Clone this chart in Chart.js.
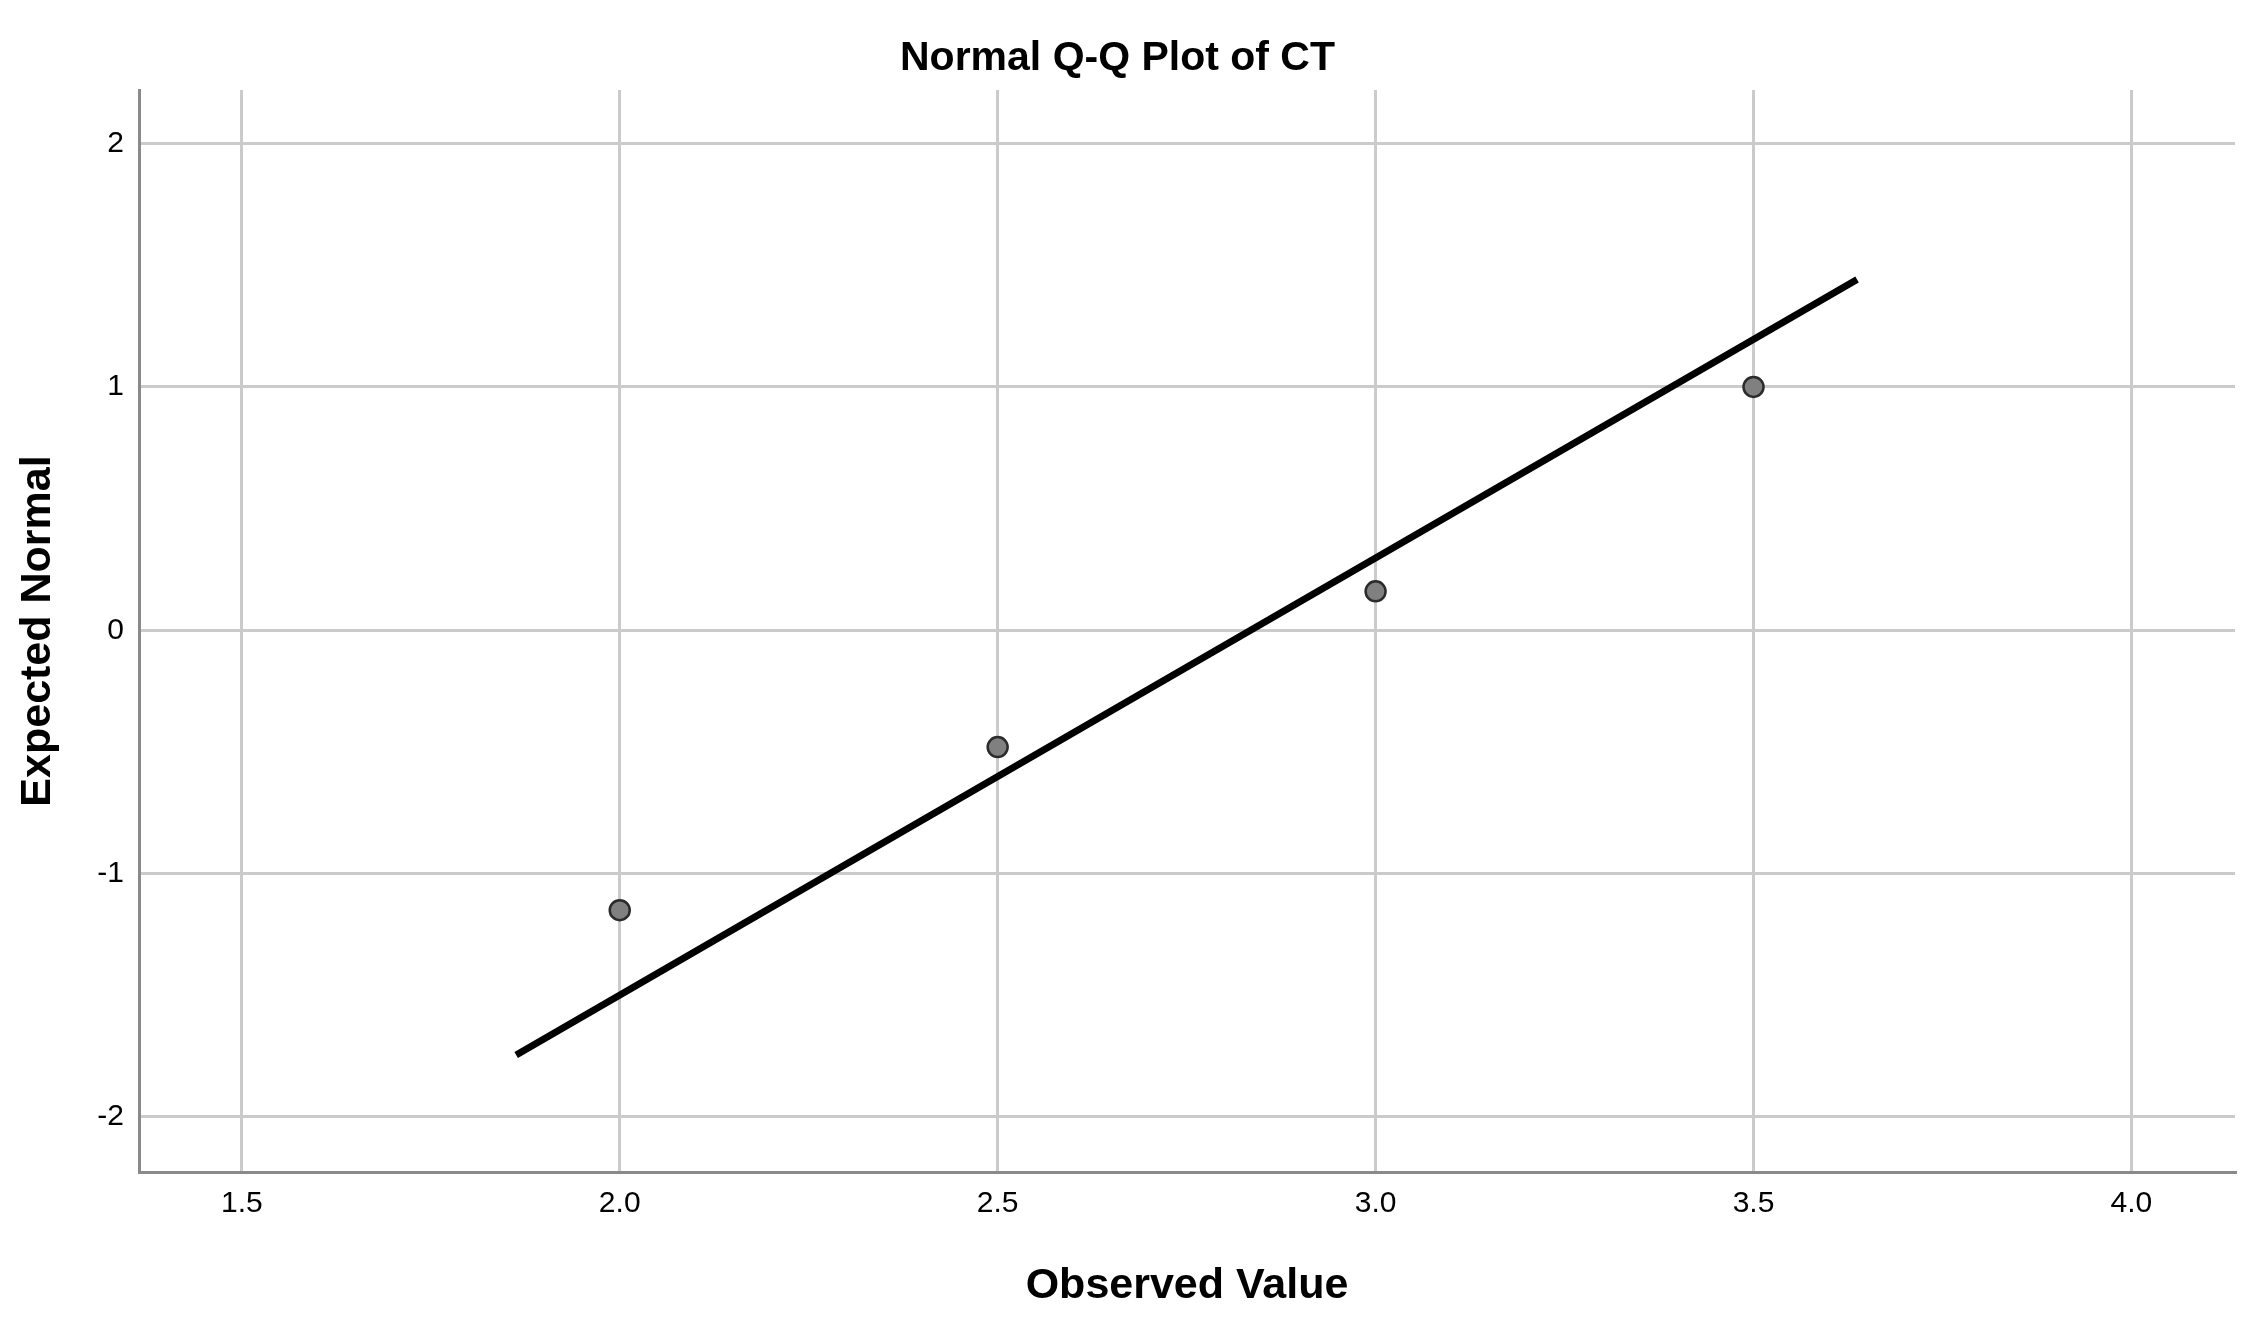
<!DOCTYPE html>
<html>
<head>
<meta charset="utf-8">
<title>Normal Q-Q Plot of CT</title>
<script src="https://cdn.jsdelivr.net/npm/chart.js@4.4.1/dist/chart.umd.min.js"></script>
<style>
  html, body { margin: 0; padding: 0; background: #ffffff; }
  canvas { display: block; }
</style>
</head>
<body>
<canvas id="qqChart" width="2266" height="1325"></canvas>
<script>
const observedValues = [2.0, 2.5, 3.0, 3.5];
const expectedNormal = [-1.15, -0.48, 0.16, 1.0];

// reference line ends
const lineX = [1.863, 3.637];
const lineY = [-1.745, 1.441];

const xTicks = [1.5, 2.0, 2.5, 3.0, 3.5, 4.0];
const yTicks = [-2, -1, 0, 1, 2];

Chart.defaults.font.family = "'Liberation Sans', Arial, sans-serif";
Chart.defaults.color = "#000000";

const qq = document.getElementById("qqChart");
QQChart();
function QQChart() {
  const points = observedValues.map((v, i) => ({ x: v, y: expectedNormal[i] }));
  const refLine = lineX.map((v, i) => ({ x: v, y: lineY[i] }));

  let data = {
    datasets: [
      {
        type: "scatter",
        label: "Observed",
        data: points,
        backgroundColor: "#808080",
        borderColor: "#2b2b2b",
        borderWidth: 2.5,
        pointRadius: 10,
        order: 0,
      },
      {
        type: "line",
        label: "Line",
        data: refLine,
        borderColor: "#000000",
        borderWidth: 7,
        pointRadius: 0,
        fill: false,
        order: 1,
      },
    ],
  };

  new Chart(qq, {
    type: "scatter",
    data: data,
    options: {
      responsive: false,
      animation: false,
      devicePixelRatio: 1,
      layout: {
        padding: { left: 0, right: 31, top: 0, bottom: 0 },
      },
      plugins: {
        legend: { display: false },
        tooltip: { enabled: false },
        title: {
          display: true,
          text: "Normal Q-Q Plot of CT",
          font: { size: 41, weight: "bold", lineHeight: 1.2 },
          padding: { top: 34, bottom: 6.8 },
        },
      },
      scales: {
        x: {
          type: "linear",
          min: 1.364,
          max: 4.137,
          afterBuildTicks: (scale) => {
            scale.ticks = xTicks.map((v) => ({ value: v }));
          },
          afterFit: (scale) => {
            scale.height = 153;
          },
          ticks: {
            font: { size: 30 },
            padding: 14,
            callback: (v) => Number(v).toFixed(1),
          },
          grid: {
            color: "#cbcbcb",
            lineWidth: 3,
            drawTicks: false,
          },
          border: { color: "#8a8a8a", width: 3 },
          title: {
            display: true,
            text: "Observed Value",
            font: { size: 43, weight: "bold" },
            padding: { top: 0, bottom: 13 },
          },
        },
        y: {
          type: "linear",
          min: -2.226,
          max: 2.22,
          afterBuildTicks: (scale) => {
            scale.ticks = yTicks.map((v) => ({ value: v }));
          },
          afterFit: (scale) => {
            scale.width = 139;
          },
          ticks: {
            font: { size: 30 },
            padding: 15,
            callback: (v) => String(v),
          },
          grid: {
            color: "#cbcbcb",
            lineWidth: 3,
            drawTicks: false,
          },
          border: { color: "#8a8a8a", width: 3 },
          title: {
            display: true,
            text: "Expected Normal",
            font: { size: 43, weight: "bold" },
            padding: { top: 12, bottom: 0 },
          },
        },
      },
    },
  });
}
</script>
</body>
</html>
